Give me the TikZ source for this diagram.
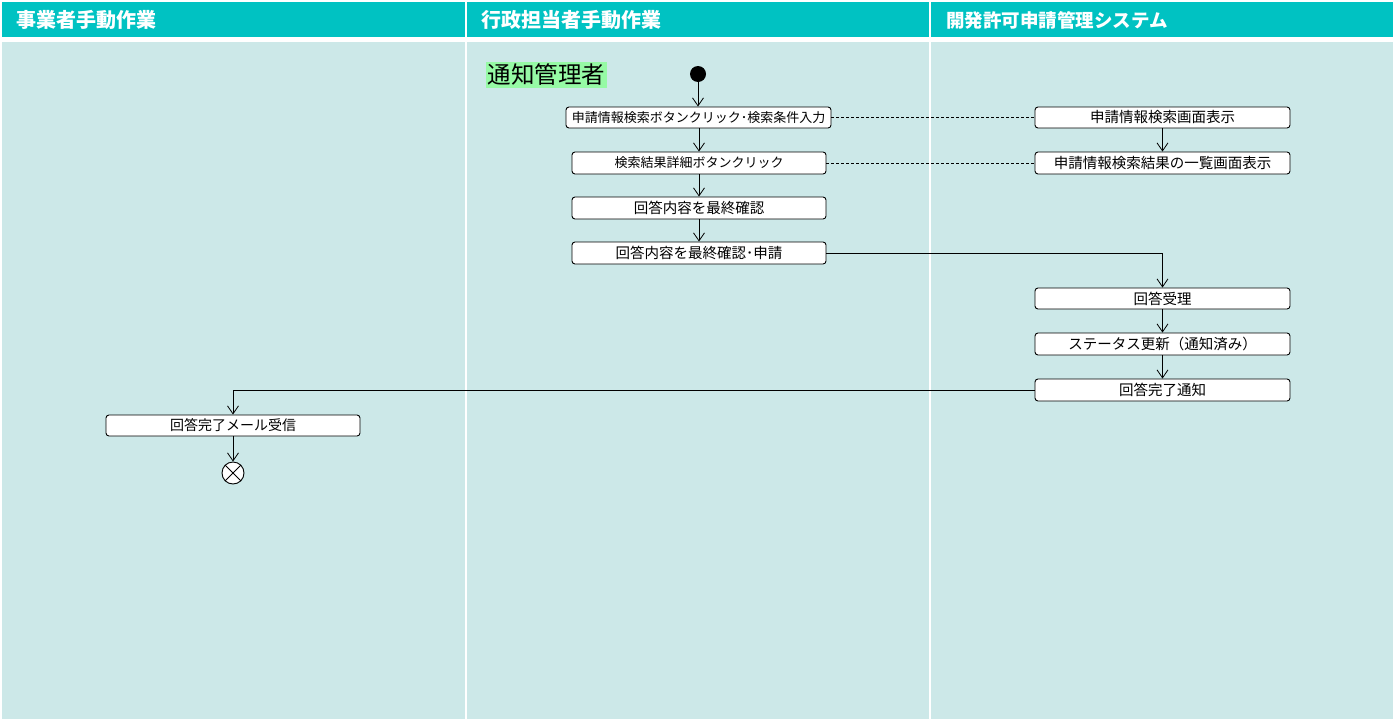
\documentclass[tikz,border=0pt]{standalone}
\usepackage{fontspec}
\setmainfont{Noto Sans CJK JP}
\usetikzlibrary{arrows.meta}
\definecolor{hdr}{RGB}{0,194,194}
\definecolor{lanebg}{RGB}{204,232,232}
\definecolor{lblgreen}{RGB}{150,250,165}
\begin{document}
\begin{tikzpicture}[x=1pt,y=-1pt,
  act/.style={draw=black,line width=0.9pt,fill=white,rounded corners=3pt,
    minimum width=254pt,minimum height=22pt,inner sep=0pt,
    font=\fontsize{14.5pt}{15pt}\selectfont},
  hdrtext/.style={anchor=west,text=white,inner sep=0pt,
    font=\fontsize{20pt}{22pt}\selectfont\bfseries},
  flow/.style={draw=black,line width=0.8pt,-{Straight Barb[length=8pt,width=11pt]}},
  dashlink/.style={draw=black,line width=0.8pt,dashed,dash pattern=on 3pt off 2pt}]
\useasboundingbox (0,0) rectangle (1397,723);
\fill[white] (0,0) rectangle (1397,723);
% headers
\fill[hdr] (2,2) rectangle (465,37);
\fill[hdr] (467,2) rectangle (929,37);
\fill[hdr] (931,2) rectangle (1393,37);
% lane bodies
\fill[lanebg] (2,42) rectangle (465,719);
\fill[lanebg] (467,42) rectangle (929,719);
\fill[lanebg] (931,42) rectangle (1393,719);
\node[hdrtext] (h1) at (16,20) {事業者手動作業};
\node[hdrtext] (h2) at (481,20) {行政担当者手動作業};
\node[hdrtext,font=\fontsize{18.5pt}{20pt}\selectfont\bfseries] (h3) at (946,20) {開発許可申請管理システム};
% role label
\node[fill=lblgreen,anchor=west,inner xsep=1.5pt,inner ysep=0pt,minimum height=26pt,
  font=\fontsize{23.5pt}{25pt}\selectfont] (role) at (486,75) {通知管理者};
% start
\node[circle,fill=black,minimum size=16pt,inner sep=0pt] (start) at (698,74) {};
% middle lane
\node[act,minimum width=265pt,minimum height=21pt,font=\fontsize{13pt}{14pt}\selectfont] (b1) at (698.5,117.5) {申請情報検索ボタンクリック･検索条件入力};
\node[act,font=\fontsize{13pt}{14pt}\selectfont] (b2) at (699,163) {検索結果詳細ボタンクリック};
\node[act] (b3) at (699,208) {回答内容を最終確認};
\node[act] (b4) at (699,253) {回答内容を最終確認･申請};
% right lane
\node[act,minimum width=255pt,minimum height=21pt] (r1) at (1162.5,117.5) {申請情報検索画面表示};
\node[act,minimum width=255pt] (r2) at (1162.5,163) {申請情報検索結果の一覧画面表示};
\node[act,minimum width=255pt,minimum height=21pt] (r3) at (1162.5,298.5) {回答受理};
\node[act,minimum width=255pt] (r4) at (1162.5,344) {ステータス更新（通知済み）};
\node[act,minimum width=255pt] (r5) at (1162.5,390) {回答完了通知};
% left lane
\node[act,minimum height=21pt,font=\fontsize{14pt}{15pt}\selectfont] (l1) at (233,425.5) {回答完了メール受信};
\node[circle,draw=black,line width=0.9pt,fill=white,minimum size=22pt,inner sep=0pt] (end) at (233,473) {};
\draw[line width=0.9pt] (end.north west) -- (end.south east) (end.north east) -- (end.south west);
% flows
\draw[flow] (start) -- (start |- b1.north);
\draw[flow] (b1.south -| b2.north) -- (b2.north);
\draw[flow] (b2) -- (b3);
\draw[flow] (b3) -- (b4);
\draw[dashlink] (b1.east) -- (r1.west);
\draw[dashlink] (b2.east) -- (r2.west);
\draw[flow] (r1) -- (r2);
\draw[flow] (b4.east) -| (r3.north);
\draw[flow] (r3) -- (r4);
\draw[flow] (r4) -- (r5);
\draw[flow] (r5.west) -| (l1.north);
\draw[flow] (l1) -- (end);
\end{tikzpicture}
\end{document}
